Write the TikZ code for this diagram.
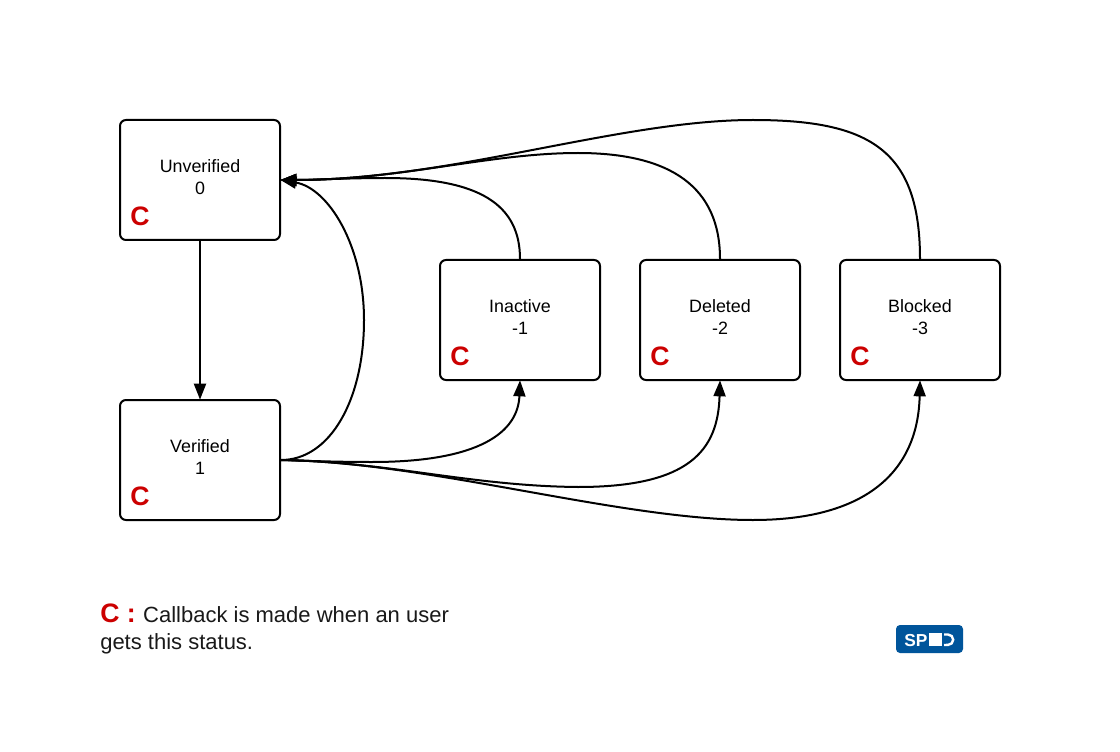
\documentclass[tikz,border=0pt]{standalone}
\usepackage{fontspec}
\setmainfont{Liberation Sans}
\usetikzlibrary{arrows.meta}
\definecolor{cred}{HTML}{CC0000}
\definecolor{logoblue}{HTML}{00559B}
\tikzset{
  x=0.75pt,y=-0.75pt,
  statebox/.style={draw=black,line width=1.5pt,rounded corners=4.5pt,minimum width=120pt,minimum height=90pt,inner sep=0pt,fill=white},
  statetext/.style={font=\fontsize{13.4pt}{16.5pt}\selectfont,align=center,text=black,inner sep=0pt},
  cmark/.style={font=\fontsize{20pt}{20pt}\selectfont\bfseries,text=cred,inner sep=0pt},
  conn/.style={draw=black,line width=1.5pt,-{Triangle[length=12pt,width=9pt]},shorten >=-0.5pt},
  legend/.style={font=\fontsize{16.5pt}{21pt}\selectfont,text=black!90,inner sep=0pt,anchor=base west}
}
\begin{document}
\begin{tikzpicture}
\useasboundingbox (0,0) rectangle (1120,752);
\fill[white] (0,0) rectangle (1120,752);
\node[statebox] (unv) at (200,180) {};
\node[statebox] (ver) at (200,460) {};
\node[statebox] (ina) at (520,320) {};
\node[statebox] (del) at (720,320) {};
\node[statebox] (blo) at (920,320) {};
\node[statetext] (tunv) at (200,177) {Unverified\\0};
\node[statetext] (tver) at (200,457) {Verified\\1};
\node[statetext] (tina) at (520,317) {Inactive\\-1};
\node[statetext] (tdel) at (720,317) {Deleted\\-2};
\node[statetext] (tblo) at (920,317) {Blocked\\-3};
\node[cmark] (cunv) at (140,216) {C};
\node[cmark] (cver) at (140,496) {C};
\node[cmark] (cina) at (460,356) {C};
\node[cmark] (cdel) at (660,356) {C};
\node[cmark] (cblo) at (860,356) {C};
\draw[conn] (unv.south) -- (ver.north);
\draw[conn] (ver.east) .. controls (330,460) and (364,400) .. (364,320) .. controls (364,245) and (328,188) .. (unv.east);
\draw[conn] (ina.north) .. controls (520,205) and (480,178) .. (385,178) .. controls (350,178) and (310,180) .. (unv.east);
\draw[conn] (del.north) .. controls (720,188) and (672,153) .. (578,153) .. controls (490,153) and (400,180) .. (unv.east);
\draw[conn] (blo.north) .. controls (920,150) and (870,120) .. (753,120) .. controls (620,120) and (450,180) .. (unv.east);
\draw[conn] (ver.east) .. controls (310,461) and (340,462) .. (372,462) .. controls (480,462) and (518,432) .. (ina.south);
\draw[conn] (ver.east) .. controls (390,462) and (470,486) .. (578,487) .. controls (690,487) and (718,450) .. (del.south);
\draw[conn] (ver.east) .. controls (430,462) and (620,520) .. (753,520) .. controls (868,520) and (918,470) .. (blo.south);
\node[legend] (leg1) at (100,622) {\fontsize{20pt}{20pt}\selectfont\bfseries\textcolor{cred}{C :} \fontsize{16.5pt}{21pt}\mdseries Callback is made when an user};
\node[legend] (leg2) at (100,649) {gets this status.};
\fill[logoblue,rounded corners=3pt] (896,625) rectangle (963,653);
\node[inner sep=0pt,anchor=base west,text=white,font=\fontsize{13pt}{15pt}\selectfont\bfseries] (sp) at (904,646) {SP};
\fill[white] (929,633) rectangle (942,646);
\draw[white,line width=1.8pt] (944,634.5) -- (948,634.5) arc (-90:90:5.2) -- (944,645);
\end{tikzpicture}
\end{document}
